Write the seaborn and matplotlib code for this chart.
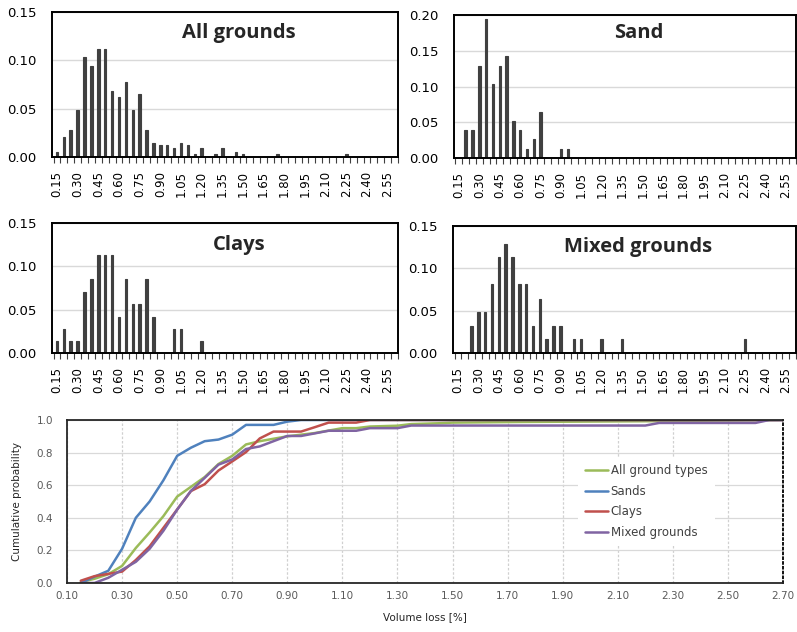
import numpy as np
import pandas as pd
import seaborn as sns
import matplotlib
matplotlib.use('Agg')
import matplotlib.pyplot as plt
from matplotlib.ticker import FormatStrFormatter

# --- data ---
# histogram classes of volume loss [%], 0.15 ... 2.60 in 0.05 steps
BIN_LABELS = [f"{0.15 + 0.05 * i:.2f}" for i in range(50)]

ALL_GROUNDS = [0.005, 0.021, 0.028, 0.049, 0.103, 0.094, 0.112, 0.112, 0.068, 0.062,
               0.078, 0.049, 0.065, 0.028, 0.015, 0.012, 0.012, 0.009, 0.015, 0.012,
               0.003, 0.009, 0.000, 0.003, 0.009, 0.000, 0.005, 0.003, 0.000, 0.000,
               0.000, 0.000, 0.003, 0.000, 0.000, 0.000, 0.000, 0.000, 0.000, 0.000,
               0.000, 0.000, 0.003, 0.000, 0.000, 0.000, 0.000, 0.000, 0.000, 0.000]

SAND = [0.000, 0.039, 0.039, 0.129, 0.195, 0.104, 0.129, 0.143, 0.052, 0.039,
        0.013, 0.026, 0.065, 0.000, 0.000, 0.013, 0.013, 0.000, 0.000, 0.000,
        0.000, 0.000, 0.000, 0.000, 0.000, 0.000, 0.000, 0.000, 0.000, 0.000,
        0.000, 0.000, 0.000, 0.000, 0.000, 0.000, 0.000, 0.000, 0.000, 0.000,
        0.000, 0.000, 0.000, 0.000, 0.000, 0.000, 0.000, 0.000, 0.000, 0.000]

CLAYS = [0.014, 0.028, 0.014, 0.014, 0.070, 0.085, 0.113, 0.113, 0.113, 0.042,
         0.085, 0.056, 0.056, 0.085, 0.042, 0.000, 0.000, 0.028, 0.028, 0.000,
         0.000, 0.014, 0.000, 0.000, 0.000, 0.000, 0.000, 0.000, 0.000, 0.000,
         0.000, 0.000, 0.000, 0.000, 0.000, 0.000, 0.000, 0.000, 0.000, 0.000,
         0.000, 0.000, 0.000, 0.000, 0.000, 0.000, 0.000, 0.000, 0.000, 0.000]

MIXED = [0.000, 0.000, 0.032, 0.048, 0.048, 0.081, 0.113, 0.129, 0.113, 0.081,
         0.081, 0.032, 0.064, 0.016, 0.032, 0.032, 0.000, 0.016, 0.016, 0.000,
         0.000, 0.016, 0.000, 0.000, 0.016, 0.000, 0.000, 0.000, 0.000, 0.000,
         0.000, 0.000, 0.000, 0.000, 0.000, 0.000, 0.000, 0.000, 0.000, 0.000,
         0.000, 0.000, 0.016, 0.000, 0.000, 0.000, 0.000, 0.000, 0.000, 0.000]

# cumulative curves (break points of each polyline)
CUM_ALL_X = [0.15, 0.20, 0.25, 0.30, 0.35, 0.40, 0.45, 0.50, 0.55, 0.60, 0.65, 0.70,
             0.75, 0.80, 0.85, 0.90, 0.95, 1.00, 1.05, 1.10, 1.15, 1.20, 1.30, 1.35,
             1.45, 1.50, 1.75, 2.25, 2.70]
CUM_ALL_Y = [0.005, 0.026, 0.054, 0.105, 0.215, 0.31, 0.41, 0.53, 0.59, 0.65, 0.73, 0.78,
             0.85, 0.87, 0.885, 0.90, 0.91, 0.92, 0.935, 0.95, 0.95, 0.96, 0.965, 0.975,
             0.98, 0.984, 0.988, 0.993, 1.0]

CUM_SAND_X = [0.15, 0.20, 0.25, 0.30, 0.35, 0.40, 0.45, 0.50, 0.55, 0.60, 0.65, 0.70,
              0.75, 0.85, 0.90, 0.95, 2.70]
CUM_SAND_Y = [0.0, 0.039, 0.075, 0.21, 0.40, 0.50, 0.63, 0.78, 0.83, 0.87, 0.88, 0.91,
              0.97, 0.97, 0.99, 1.0, 1.0]

CUM_CLAYS_X = [0.15, 0.20, 0.25, 0.30, 0.35, 0.40, 0.45, 0.50, 0.55, 0.60, 0.65, 0.70,
               0.75, 0.80, 0.85, 0.95, 1.00, 1.05, 1.15, 1.20, 2.70]
CUM_CLAYS_Y = [0.014, 0.042, 0.056, 0.070, 0.141, 0.225, 0.338, 0.451, 0.564, 0.606,
               0.690, 0.746, 0.803, 0.887, 0.929, 0.929, 0.956, 0.984, 0.984, 1.0, 1.0]

CUM_MIXED_X = [0.15, 0.20, 0.25, 0.30, 0.35, 0.40, 0.45, 0.50, 0.55, 0.60, 0.65, 0.70,
               0.75, 0.80, 0.85, 0.90, 0.95, 1.00, 1.05, 1.15, 1.20, 1.30, 1.35, 2.20,
               2.25, 2.60, 2.65, 2.70]
CUM_MIXED_Y = [0.0, 0.0, 0.032, 0.081, 0.13, 0.21, 0.32, 0.45, 0.565, 0.645, 0.726, 0.758,
               0.822, 0.838, 0.870, 0.902, 0.902, 0.918, 0.934, 0.934, 0.95, 0.95, 0.966,
               0.966, 0.982, 0.982, 1.0, 1.0]

SERIES_NAMES = ['All ground types', 'Sands', 'Clays', 'Mixed grounds']
SERIES_COLORS = ['#9BBB59', '#4F81BD', '#C0504D', '#8064A2']

sns.set_style('white')
plt.rcParams['font.family'] = ['DejaVu Sans']


def draw_hist(ax, values, title, ymax, title_y):
    df = pd.DataFrame({'bin': BIN_LABELS, 'freq': values})
    sns.barplot(data=df, x='bin', y='freq', order=BIN_LABELS, color='#404040',
                saturation=1, width=0.36, edgecolor='#404040', linewidth=0.8, ax=ax)
    n = len(BIN_LABELS)
    ax.set_xlim(-0.72, n - 0.5)
    ax.set_ylim(0, ymax)
    ax.set_yticks(np.arange(0, ymax + 0.001, 0.05))
    ax.yaxis.set_major_formatter(FormatStrFormatter('%.2f'))
    ax.set_xticks(range(0, n, 3))
    ax.set_xticklabels(BIN_LABELS[::3], rotation=90)
    ax.set_xticks(np.arange(-0.5, n, 1), minor=True)
    ax.tick_params(axis='x', which='major', length=0, pad=10, labelsize=8.5, colors='black')
    ax.tick_params(axis='x', which='minor', bottom=True, length=4, width=0.8, color='#404040')
    ax.tick_params(axis='y', length=0, pad=11, labelsize=9.5, colors='black')
    ax.yaxis.grid(True, color='#D9D9D9', lw=1)
    ax.set_axisbelow(True)
    ax.set_xlabel('')
    ax.set_ylabel('')
    for sp in ax.spines.values():
        sp.set_color('black')
        sp.set_linewidth(1.4)
    ax.text(0.54, title_y, title, transform=ax.transAxes, ha='center', va='center',
            fontsize=14.5, fontweight='bold', family='Open Sans')


fig = plt.figure(figsize=(7.97, 6.32), dpi=100)
W, H = 797.0, 632.0


def box(x0, y0, x1, y1):
    return [x0 / W, 1 - y1 / H, (x1 - x0) / W, (y1 - y0) / H]


ax1 = fig.add_axes(box(52, 12, 398, 157))
ax2 = fig.add_axes(box(454, 15, 796, 158))
ax3 = fig.add_axes(box(52, 223, 398, 353))
ax4 = fig.add_axes(box(453, 226, 796, 353))

draw_hist(ax1, ALL_GROUNDS, 'All grounds', 0.15, 0.855)
draw_hist(ax2, SAND, 'Sand', 0.20, 0.874)
draw_hist(ax3, CLAYS, 'Clays', 0.15, 0.832)
draw_hist(ax4, MIXED, 'Mixed grounds', 0.15, 0.835)

# --- cumulative distribution ---
cum_x = [CUM_ALL_X, CUM_SAND_X, CUM_CLAYS_X, CUM_MIXED_X]
cum_y = [CUM_ALL_Y, CUM_SAND_Y, CUM_CLAYS_Y, CUM_MIXED_Y]
cum_df = pd.concat([pd.DataFrame({'vl': xs, 'cp': ys, 'group': name})
                    for xs, ys, name in zip(cum_x, cum_y, SERIES_NAMES)],
                   ignore_index=True)

ax5 = fig.add_axes(box(67, 420, 783, 583))
sns.lineplot(data=cum_df, x='vl', y='cp', hue='group', hue_order=SERIES_NAMES,
             palette=dict(zip(SERIES_NAMES, SERIES_COLORS)), lw=1.8, sort=False,
             estimator=None, ax=ax5)
ax5.set_xlim(0.10, 2.70)
ax5.set_ylim(0, 1.0)
ax5.set_xticks(np.arange(0.10, 2.71, 0.20))
ax5.set_yticks(np.arange(0, 1.01, 0.2))
ax5.xaxis.set_major_formatter(FormatStrFormatter('%.2f'))
ax5.yaxis.set_major_formatter(FormatStrFormatter('%.1f'))
ax5.tick_params(axis='x', length=0, pad=6, labelsize=7.5, colors='#595959')
ax5.tick_params(axis='y', length=0, pad=10, labelsize=7.5, colors='#595959')
ax5.yaxis.grid(True, color='#D9D9D9', lw=0.9)
ax5.xaxis.grid(True, color='#D0D0D0', lw=0.9, ls=(0, (2, 1.5)))
ax5.set_axisbelow(True)
for name, sp in ax5.spines.items():
    sp.set_color('#262626')
    sp.set_linewidth(1.3)
ax5.spines['right'].set_linestyle(':')
ax5.spines['right'].set_color('black')
ax5.set_xlabel('Volume loss [%]', fontsize=7.5, color='#262626')
ax5.set_ylabel('Cumulative probability', fontsize=7.5, color='#262626')
ax5.xaxis.set_label_coords(0.5, -0.18)
ax5.yaxis.set_label_coords(-0.063, 0.5)

leg = ax5.legend(loc='center left', bbox_to_anchor=(0.705, 0.50), frameon=True,
                 facecolor='white', edgecolor='none', framealpha=1, fontsize=8.5,
                 handlelength=2.0, handletextpad=0.2, labelspacing=0.65,
                 borderpad=0.6)
for txt in leg.get_texts():
    txt.set_color('#404040')

fig.savefig('out.png', dpi=100)
